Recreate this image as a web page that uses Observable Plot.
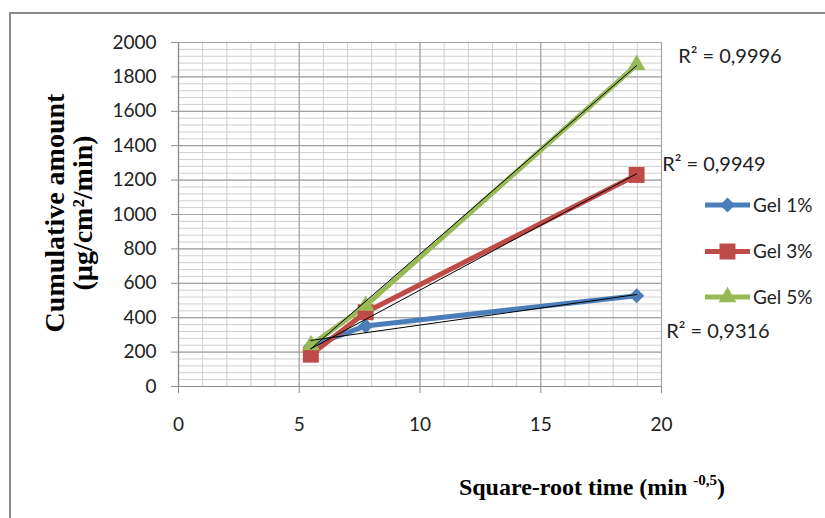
<!DOCTYPE html>
<html><head><meta charset="utf-8">
<script src="https://cdn.jsdelivr.net/npm/d3@7"></script>
<script src="https://cdn.jsdelivr.net/npm/@observablehq/plot@0.6"></script>
<style>
html,body{margin:0;padding:0;background:#fff;}
#chart{width:825px;height:518px;overflow:hidden;}
</style></head><body>
<div id="chart"></div>
<script>
// ---- data ----
const sqrtTime = [5.48, 7.75, 18.97];
const gel1 = [235, 352, 528];
const gel3 = [185, 432, 1230];
const gel5 = [240, 470, 1870];
const seriesNames = ["Gel 1%", "Gel 3%", "Gel 5%"];
const seriesColors = ["#4A7EBB", "#BE4B48", "#98B954"];
const r2Labels = ["R² = 0,9316", "R² = 0,9949", "R² = 0,9996"];
const xTicks = [0, 5, 10, 15, 20];
const yTicks = [0, 200, 400, 600, 800, 1000, 1200, 1400, 1600, 1800, 2000];
const xTitle = "Square-root time (min ";
const xTitleSup = "-0,5";
const yTitle = ["Cumulative amount", "(µg/cm²/min)"];

const seriesValues = [gel1, gel3, gel5];
const data = seriesNames.flatMap((s, i) => sqrtTime.map((x, j) => ({series: s, x, y: seriesValues[i][j]})));
const minorX = d3.range(0, 20.001, 1);
const minorY = d3.range(0, 2000.001, 40);

const symbols = ["diamond2", "square", "triangle"];
const radii = [6.8, 9, 6.6];

const lastPoint = i => ({x: sqrtTime[sqrtTime.length - 1], y: seriesValues[i][sqrtTime.length - 1], text: r2Labels[i]});
const labelOffsets = [[29.5, 42], [25.5, -4], [41.5, -2]];

const marks = [
  Plot.ruleX(minorX, {stroke: "#cfcfcf", strokeWidth: 1}),
  Plot.ruleY(minorY, {stroke: "#cfcfcf", strokeWidth: 1}),
  Plot.ruleX(xTicks, {stroke: "#a3a3a3", strokeWidth: 1.2}),
  Plot.ruleY(yTicks, {stroke: "#a3a3a3", strokeWidth: 1.2}),
  Plot.axisX(xTicks, {anchor: "bottom", tickSize: 7, tickPadding: 24, fontSize: 19, stroke: "#8c8c8c", fill: "#222", textStroke: "none", label: null, tickFormat: d => String(d)}),
  Plot.axisY(yTicks, {anchor: "left", tickSize: 7, tickPadding: 15, fontSize: 19, stroke: "#8c8c8c", fill: "#222", textStroke: "none", label: null, tickFormat: d => String(d)}),
  Plot.ruleX([0], {stroke: "#8c8c8c", strokeWidth: 1.2}),
  Plot.ruleY([0], {stroke: "#8c8c8c", strokeWidth: 1.2}),
  Plot.line(data, {x: "x", y: "y", z: "series", stroke: "series", strokeWidth: 5}),
  ...seriesNames.map((s, i) => Plot.dot(data.filter(d => d.series === s), {x: "x", y: "y", symbol: () => symbols[i], fill: seriesColors[i], stroke: "none", r: radii[i]})),
  Plot.linearRegressionY(data, {x: "x", y: "y", z: "series", stroke: "#000", strokeWidth: 1, ci: 0}),
  ...seriesNames.map((s, i) => Plot.text([lastPoint(i)], {x: "x", y: "y", text: "text", textAnchor: "start", lineAnchor: "bottom", dx: labelOffsets[i][0], dy: labelOffsets[i][1], fontSize: 20, fill: "#222"}))
];

const chart = Plot.plot({
  width: 825, height: 518,
  marginLeft: 178, marginRight: 164, marginTop: 42, marginBottom: 132,
  x: {domain: [0, 20], axis: null},
  y: {domain: [0, 2000], axis: null},
  color: {domain: seriesNames, range: seriesColors},
  symbol: {domain: symbols, range: symbols},
  style: {fontFamily: "Lato, 'Noto Sans', sans-serif", fontSize: "19px", color: "#222", background: "white", overflow: "visible"},
  marks
});
document.getElementById("chart").appendChild(chart);

// ---- decorations: chart border, axis titles, legend ----
const svg = d3.select(chart);
svg.insert("path", ":first-child").attr("d", "M10,520V13H827").attr("fill", "none").attr("stroke", "#8a8a8a").attr("stroke-width", 2);

const serif = "'Liberation Serif', 'Times New Roman', serif";
const xt = svg.append("text").attr("x", 592).attr("y", 495).attr("text-anchor", "middle")
  .attr("font-family", serif).attr("font-weight", "bold").attr("font-size", 24).attr("fill", "#000")
  .style("white-space", "pre");
xt.append("tspan").text(xTitle);
xt.append("tspan").attr("dy", -10).attr("font-size", 15).text(xTitleSup);
xt.append("tspan").attr("dy", 10).text(")");

const yPos = [64, 92];
yTitle.forEach((t, i) => {
  svg.append("text").attr("transform", `translate(${yPos[i]},213) rotate(-90)`).attr("text-anchor", "middle")
    .attr("font-family", serif).attr("font-weight", "bold").attr("font-size", 28).attr("fill", "#000").text(t);
});

const legendY = [205, 251.5, 297];
const d3Symbols = [d3.symbolDiamond2, d3.symbolSquare, d3.symbolTriangle];
seriesNames.forEach((s, i) => {
  const g = svg.append("g").attr("transform", `translate(705,${legendY[i]})`);
  g.append("line").attr("x1", 0).attr("x2", 45).attr("stroke", seriesColors[i]).attr("stroke-width", 5);
  g.append("path").attr("transform", "translate(22.5,0)").attr("d", d3.symbol(d3Symbols[i], Math.PI * radii[i] * radii[i])()).attr("fill", seriesColors[i]);
  g.append("text").attr("x", 48).attr("dy", "0.35em").attr("text-anchor", "start").attr("font-family", "Lato, 'Noto Sans', sans-serif").attr("font-size", 19).attr("fill", "#222").text(s);
});
</script>
</body></html>
